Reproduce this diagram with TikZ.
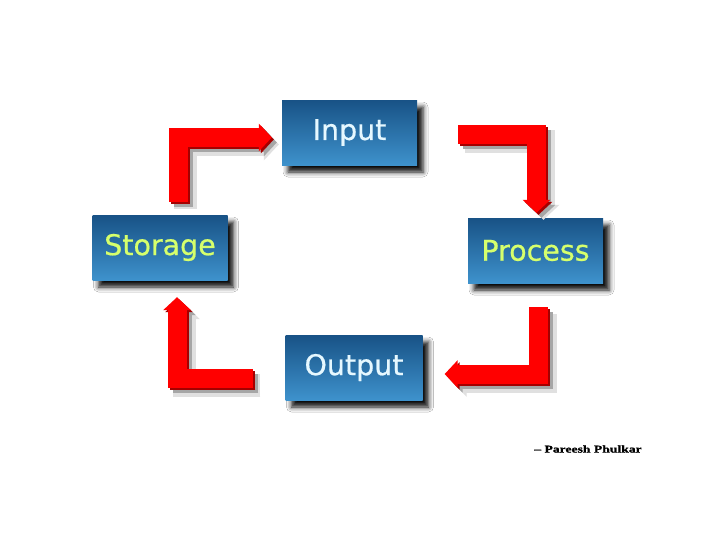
\documentclass[tikz,border=0pt]{standalone}
\usepackage{fontspec}
\setmainfont{DejaVu Sans}
\newfontfamily\boxfont[FakeBold=0.6]{DejaVu Sans}
\newfontfamily\creditfont[FakeStretch=1.3,FakeBold=1.2]{Liberation Serif}
\usetikzlibrary{arrows.meta,shadows.blur,calc}
\definecolor{boxtop}{RGB}{24,82,134}
\definecolor{boxbot}{RGB}{62,146,204}
\definecolor{lighttext}{RGB}{230,248,255}
\definecolor{limetext}{RGB}{214,255,108}
\definecolor{arrowred}{RGB}{255,0,0}
\definecolor{arrowdark}{RGB}{165,0,0}
\newcommand\fancyflow[1]{%
  \begin{scope}[transform canvas={shift={(7,7)}}]\draw[flowsoft] #1;\end{scope}
  \begin{scope}[transform canvas={shift={(5,5)}}]\draw[flowshade] #1;\end{scope}
  \begin{scope}[transform canvas={shift={(2,2)}}]\draw[flowdark] #1;\end{scope}
  \draw[flow] #1;}
\begin{document}
\begin{tikzpicture}[x=1pt,y=-1pt,
  stagebox/.style={minimum width=135pt,minimum height=65pt,inner sep=0pt,
    top color=boxtop,bottom color=boxbot,
    blur shadow={shadow xshift=6pt,shadow yshift=-7pt,shadow blur radius=5pt,shadow opacity=95},
    font=\boxfont\fontsize{28.5}{30}\selectfont},
  flowbase/.style={line width=19pt,line join=miter,
    -{Triangle[width=27pt 0,length=13pt 0]}},
  flow/.style={flowbase,draw=arrowred},
  flowdark/.style={flowbase,draw=arrowdark},
  flowshade/.style={flowbase,draw=black!35},
  flowsoft/.style={flowbase,line width=23pt,draw=black!12,
    -{Triangle[width=31pt 0,length=15pt 0]}}
]
\useasboundingbox[fill=white] (0,0) rectangle (728,546);

\node[stagebox,text=lighttext] (input)   at (349.5,132.5) {Input};
\node[stagebox,text=limetext]  (storage) at (160,247.5)   {Storage};
\node[stagebox,text=limetext]  (process) at (535.5,250.5) {Process};
\node[stagebox,text=lighttext,minimum width=137pt] (output) at (354,367.5) {Output};

\fancyflow{($(storage.north)+(18,-13)$) |- ($(input.west)+(-10,5)$)}
\fancyflow{($(input.east)+(41,2)$) -| ($(process.north)+(1,-5)$)}
\fancyflow{($(process.south)+(2.5,24)$) |- ($(output.east)+(22,6.5)$)}
\fancyflow{($(output.west)+(-32,10.5)$) -| ($(storage.south)+(17,17)$)}

\node[font=\creditfont\bfseries\fontsize{10.5}{12}\selectfont] (credit) at (588,449) {– Pareesh Phulkar};
\end{tikzpicture}
\end{document}
